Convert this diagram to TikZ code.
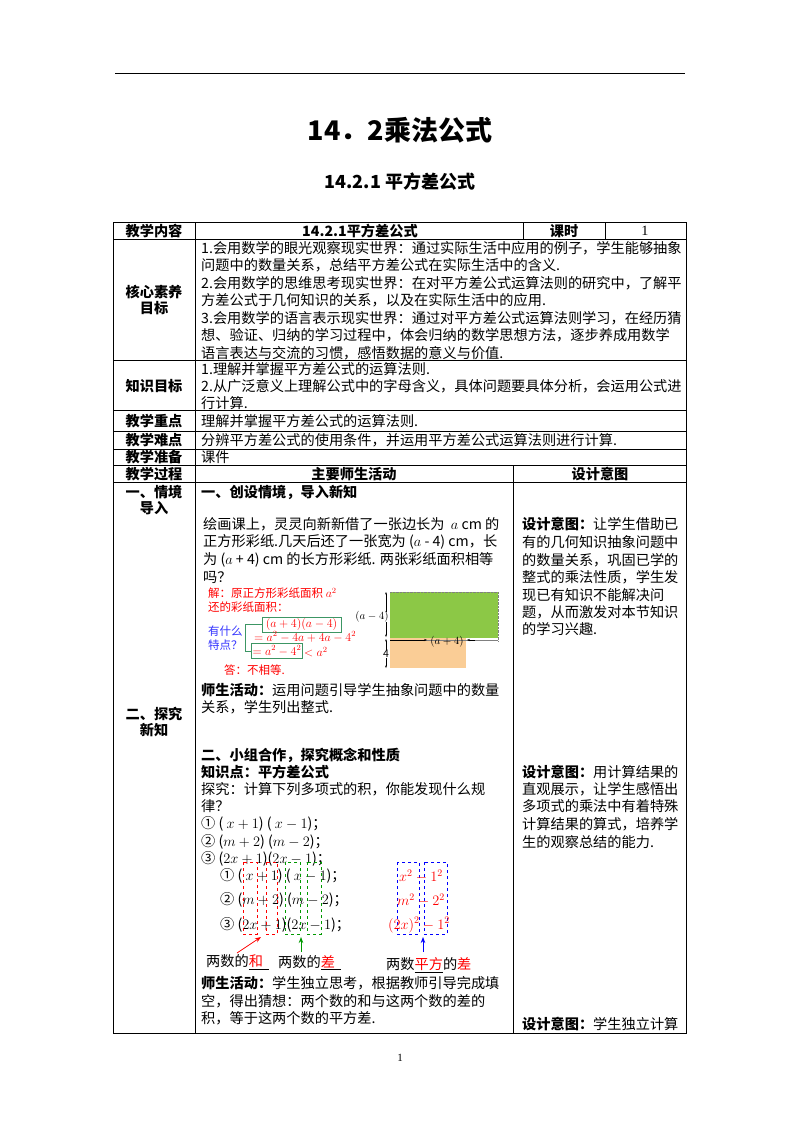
\documentclass[tikz,border=0pt]{standalone}
\usepackage{fontspec}
\setmainfont{Noto Sans CJK SC}
\newfontfamily\serifl{Liberation Serif}
\usetikzlibrary{arrows.meta}
\newcommand{\fs}{\fontsize{14.2}{16}\selectfont}
\newcommand{\bfs}{\fontsize{14.2}{16}\selectfont\bfseries}
\definecolor{gr}{RGB}{140,200,70}
\definecolor{org}{RGB}{250,205,150}
\definecolor{bx}{RGB}{60,150,100}
\begin{document}
\begin{tikzpicture}[x=1pt,y=-1pt,
 t/.style={anchor=west,inner sep=0pt,font=\fs},
 c/.style={anchor=center,inner sep=0pt,font=\fs},
 h/.style={anchor=center,inner sep=0pt,font=\bfs},
 hl/.style={anchor=west,inner sep=0pt,font=\bfs},
 rl/.style={anchor=west,inner sep=0pt,font=\fontsize{11.5}{13}\selectfont,text=red},
 grid/.style={line width=0.7pt},
 dbox/.style={dashed,line width=0.8pt}]
\useasboundingbox (0,0) rectangle (800,1132);
\fill[white] (0,0) rectangle (800,1132);
\draw[line width=0.6pt] (115,73) -- (685,73);
\node[inner sep=0,font=\fontsize{27}{30}\selectfont\bfseries] (title) at (400,130) {14．2乘法公式};
\node[inner sep=0,font=\fontsize{18}{20}\selectfont\bfseries] (sub) at (400,182) {14.2.1 平方差公式};
% table
\draw[grid] (113,222) rectangle (686,1033);
\foreach \y in {239,360,410,431,449,465,482} \draw[grid] (113,\y) -- (686,\y);
\draw[grid] (195,222) -- (195,1033);
\draw[grid] (523,222) -- (523,239);
\draw[grid] (605,222) -- (605,239);
\draw[grid] (513,465) -- (513,1033);
\node[h] (r1a) at (154,231) {教学内容};
\node[h] (r1b) at (360,231) {14.2.1平方差公式};
\node[h] (r1c) at (564,231) {课时};
\node[c] (r1d) at (645,231) {\serifl 1};
\node[h,align=center] (r2) at (154,300) {核心素养\\目标};
\node[t] at (201,248) {1.会用数学的眼光观察现实世界：通过实际生活中应用的例子，学生能够抽象};
\node[t] at (201,265.5) {问题中的数量关系，总结平方差公式在实际生活中的含义.};
\node[t] at (201,283) {2.会用数学的思维思考现实世界：在对平方差公式运算法则的研究中，了解平};
\node[t] at (201,300.5) {方差公式于几何知识的关系，以及在实际生活中的应用.};
\node[t] at (201,318) {3.会用数学的语言表示现实世界：通过对平方差公式运算法则学习，在经历猜};
\node[t] at (201,335.5) {想、验证、归纳的学习过程中，体会归纳的数学思想方法，逐步养成用数学};
\node[t] at (201,353) {语言表达与交流的习惯，感悟数据的意义与价值.};
\node[h] (r3) at (154,386) {知识目标};
\node[t] at (201,369) {1.理解并掌握平方差公式的运算法则.};
\node[t] at (201,386) {2.从广泛意义上理解公式中的字母含义，具体问题要具体分析，会运用公式进};
\node[t] at (201,403) {行计算.};
\node[h] (r4) at (154,421) {教学重点};
\node[t] at (201,421) {理解并掌握平方差公式的运算法则.};
\node[h] (r5) at (154,440) {教学难点};
\node[t] at (201,440) {分辨平方差公式的使用条件，并运用平方差公式运算法则进行计算.};
\node[h] (r6) at (154,457) {教学准备};
\node[t] at (201,457) {课件};
\node[h] (r7) at (154,474) {教学过程};
\node[h] at (354,474) {主要师生活动};
\node[h] at (600,474) {设计意图};
\node[h,align=center] at (154,500) {一、情境\\导入};
\node[h,align=center] at (154,722) {二、探究\\新知};
% middle column
\node[hl] at (201,492) {一、创设情境，导入新知};
\node[t] at (203,524) {绘画课上，灵灵向新新借了一张边长为 \ $a$\ cm 的};
\node[t] at (203,542) {正方形彩纸.几天后还了一张宽为 ($a$ - 4) cm，长};
\node[t] at (203,560) {为 ($a$ + 4) cm 的长方形彩纸. 两张彩纸面积相等};
\node[t] at (203,577) {吗？};
% figure 1
\node[rl] at (208,593) {解：原正方形彩纸面积 $a^2$};
\node[rl] at (208,607) {还的彩纸面积：};
\node[rl,text=blue!80!white] at (208,631) {有什么};
\node[rl,text=blue!80!white] at (208,645) {特点？};
\draw[bx,line width=0.8pt] (262,624) -- (245,624) -- (245,651) -- (252,651);
\node[draw=bx,line width=0.8pt,inner sep=1pt,text=red,font=\fontsize{11.5}{12}\selectfont,minimum width=79pt,minimum height=15pt] (b1) at (301.5,624.5) {$(a+4)(a-4)$};
\node[rl] at (254,637) {$= a^2-4a+4a-4^2$};
\node[draw=bx,line width=0.8pt,inner sep=1pt,text=red,font=\fontsize{11.5}{12}\selectfont,minimum width=50pt,minimum height=15pt] (b2) at (277,651) {$= a^2-4^2$};
\node[rl,anchor=west] at (304,652) {$<a^2$};
\node[rl] at (224,670) {答：不相等.};
\fill[gr] (390,592) rectangle (498,638);
\fill[org] (390,638) rectangle (466,668);
\draw[densely dotted,gray] (390,592) -- (498,592) -- (498,642);
\draw[gray,line width=0.4pt] (390,640) -- (498,640);
\draw[-{Stealth[length=3pt]},line width=0.4pt] (390,640) -- (427,640);
\draw[-{Stealth[length=3pt]},line width=0.4pt] (475,640) -- (467,640);
\node[inner sep=0,font=\fontsize{10.5}{11}\selectfont] at (447,642) {$(a+4)$};
\draw[{Stealth[length=2.5pt]}-{Stealth[length=2.5pt]},line width=0.4pt] (386,592) -- (386,637);
\draw[{Stealth[length=2.5pt]}-{Stealth[length=2.5pt]},line width=0.4pt] (386,639) -- (386,668);
\node[inner sep=0,font=\fontsize{10.5}{11}\selectfont,fill=white] at (372,617) {$(a-4)$};
\node[inner sep=0,font=\fontsize{10.5}{11}\selectfont,fill=white] at (386,654) {4};
\node[t] at (201,690) {\textbf{师生活动：}运用问题引导学生抽象问题中的数量};
\node[t] at (201,707) {关系，学生列出整式.};
\node[hl] at (201,755) {二、小组合作，探究概念和性质};
\node[hl] at (201,772) {知识点：平方差公式};
\node[t] at (201,789) {探究：计算下列多项式的积，你能发现什么规};
\node[t] at (201,806) {律？};
\node[t] at (201,824) {① ( $x+1$) ( $x-1$)；};
\node[t] at (201,842) {② ($m+2$) ($m-2$)；};
\node[t] at (201,859) {③ ($2x+1$)($2x-1$)；};
% figure 2
\node[t] at (220,876) {① ( $x+1$) ( $x-1$)；};
\node[t] at (220,900) {② ($m+2$) ($m-2$)；};
\node[t] at (220,925) {③ ($2x+1$)($2x-1$)；};
\draw[dbox,red] (243,862) rectangle (257,934);
\draw[dbox,red] (266,862) rectangle (277,934);
\draw[dbox,green!60!black] (285,862) rectangle (300,934);
\draw[dbox,green!60!black] (307,862) rectangle (321,934);
\draw[dbox,blue] (397,862) rectangle (419,934);
\draw[dbox,blue] (424,862) rectangle (447,934);
\node[c,text=red] at (421,876) {$x^2-1^2$};
\node[c,text=red] at (421,900) {$m^2-2^2$};
\node[c,text=red] at (419,925) {$(2x)^2-1^2$};
\coordinate (ra) at (237,953); \coordinate (rb) at (261,937);
\coordinate (ga) at (301,952); \coordinate (gb) at (301,937);
\coordinate (ba) at (423,952); \coordinate (bb) at (423,937);
\draw[red,-{Stealth[length=6pt]},line width=0.8pt] (ra) -- (rb);
\draw[green!60!black,-{Stealth[length=6pt]},line width=0.8pt] (ga) -- (gb);
\draw[blue,-{Stealth[length=6pt]},line width=0.8pt] (ba) -- (bb);
\node[t] at (206,962) {两数的\underline{\textcolor{red}{和}\ \,}};
\node[t] at (278,963) {两数的\underline{\textcolor{red}{差}\ \,}};
\node[t] at (386,965) {两数\underline{\textcolor{red}{平方}}的\textcolor{red}{差}};
\node[t] at (201,983) {\textbf{师生活动：}学生独立思考，根据教师引导完成填};
\node[t] at (201,1001) {空，得出猜想：两个数的和与这两个数的差的};
\node[t] at (201,1018) {积，等于这两个数的平方差.};
% right column
\node[t] at (522,524) {\textbf{设计意图：}让学生借助已};
\node[t] at (522,542) {有的几何知识抽象问题中};
\node[t] at (522,560) {的数量关系，巩固已学的};
\node[t] at (522,577) {整式的乘法性质，学生发};
\node[t] at (522,595) {现已有知识不能解决问};
\node[t] at (522,612) {题，从而激发对本节知识};
\node[t] at (522,629) {的学习兴趣.};
\node[t] at (522,772) {\textbf{设计意图：}用计算结果的};
\node[t] at (522,789) {直观展示，让学生感悟出};
\node[t] at (522,806) {多项式的乘法中有着特殊};
\node[t] at (522,824) {计算结果的算式，培养学};
\node[t] at (522,842) {生的观察总结的能力.};
\node[t] at (522,1024) {\textbf{设计意图：}学生独立计算};
\node[c,font=\fontsize{11}{13}\selectfont\serifl] (pg) at (400,1058) {1};
\end{tikzpicture}
\end{document}
